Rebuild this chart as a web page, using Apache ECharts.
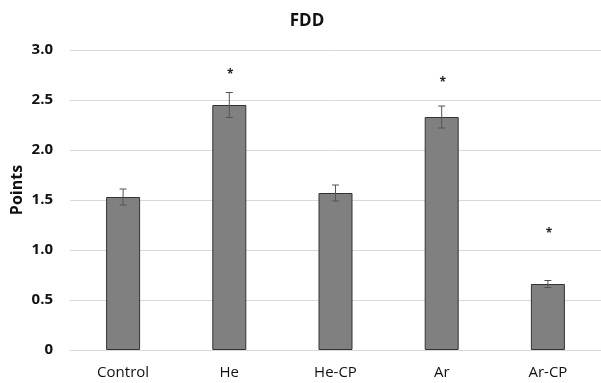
<!DOCTYPE html>
<html><head><meta charset="utf-8">
<script src="https://cdn.jsdelivr.net/npm/echarts@6/dist/echarts.min.js"></script>
<style>html,body{margin:0;padding:0;background:#fff}#c{width:601px;height:383px}</style>
</head><body><div id="c"></div>
<script>
var categories = ['Control', 'He', 'He-CP', 'Ar', 'Ar-CP'];
var means = [1.53, 2.45, 1.57, 2.33, 0.66];
var errors = [0.08, 0.125, 0.08, 0.11, 0.035];
var starLevels = [null, 2.77, null, 2.69, 1.18];
var yTicks = ['0', '0.5', '1.0', '1.5', '2.0', '2.5', '3.0'];

var chart = echarts.init(document.getElementById('c'), null, {renderer: 'canvas'});
var font = '"Open Sans", "Liberation Sans", sans-serif';
chart.setOption({
  animation: false,
  title: {text: 'FDD', left: 302, top: 8, textAlign: 'center',
    textStyle: {fontFamily: font, fontSize: 17, fontWeight: 'bold', color: '#111'}},
  graphic: [{type: 'text', x: 17, y: 190, rotation: Math.PI / 2,
    style: {text: 'Points', textAlign: 'center', textVerticalAlign: 'middle',
      font: 'bold 16px ' + font, fill: '#111'}}],
  grid: {left: 70, top: 50, width: 539, height: 300},
  xAxis: {type: 'category', data: categories,
    axisLine: {lineStyle: {color: '#d9d9d9', width: 1}},
    axisTick: {show: false},
    axisLabel: {fontFamily: font, fontSize: 15, color: '#111', margin: 15}},
  yAxis: {type: 'value', min: 0, max: 3, interval: 0.5,
    axisLine: {show: false}, axisTick: {show: false},
    splitLine: {lineStyle: {color: '#d9d9d9', width: 1}},
    axisLabel: {fontFamily: font, fontSize: 15, fontWeight: 'bold', color: '#111', margin: 17,
      formatter: function (v) { return yTicks[Math.round(v / 0.5)]; }}},
  series: [
    {type: 'bar', data: means, barWidth: 34,
      itemStyle: {color: '#808080', borderColor: '#333', borderWidth: 1}},
    {type: 'custom', data: means.map(function (m, i) { return [i, m - errors[i], m + errors[i]]; }),
      z: 5,
      renderItem: function (params, api) {
        var lo = api.coord([api.value(0), api.value(1)]);
        var hi = api.coord([api.value(0), api.value(2)]);
        var hw = 3.5;
        var st = {stroke: '#555', lineWidth: 1};
        return {type: 'group', children: [
          {type: 'line', shape: {x1: hi[0], y1: hi[1], x2: lo[0], y2: lo[1]}, style: st},
          {type: 'line', shape: {x1: hi[0] - hw, y1: hi[1], x2: hi[0] + hw, y2: hi[1]}, style: st},
          {type: 'line', shape: {x1: lo[0] - hw, y1: lo[1], x2: lo[0] + hw, y2: lo[1]}, style: st}
        ]};
      }},
    {type: 'custom', data: starLevels.map(function (s, i) { return s == null ? null : [i, s]; }).filter(function (d) { return d; }),
      z: 6,
      renderItem: function (params, api) {
        var p = api.coord([api.value(0), api.value(1)]);
        return {type: 'text', style: {x: p[0] + 1, y: p[1] + 2, text: '*', textAlign: 'center', textVerticalAlign: 'middle',
          font: 'bold 12px ' + font, fill: '#222'}};
      }}
  ]
});
</script></body></html>
